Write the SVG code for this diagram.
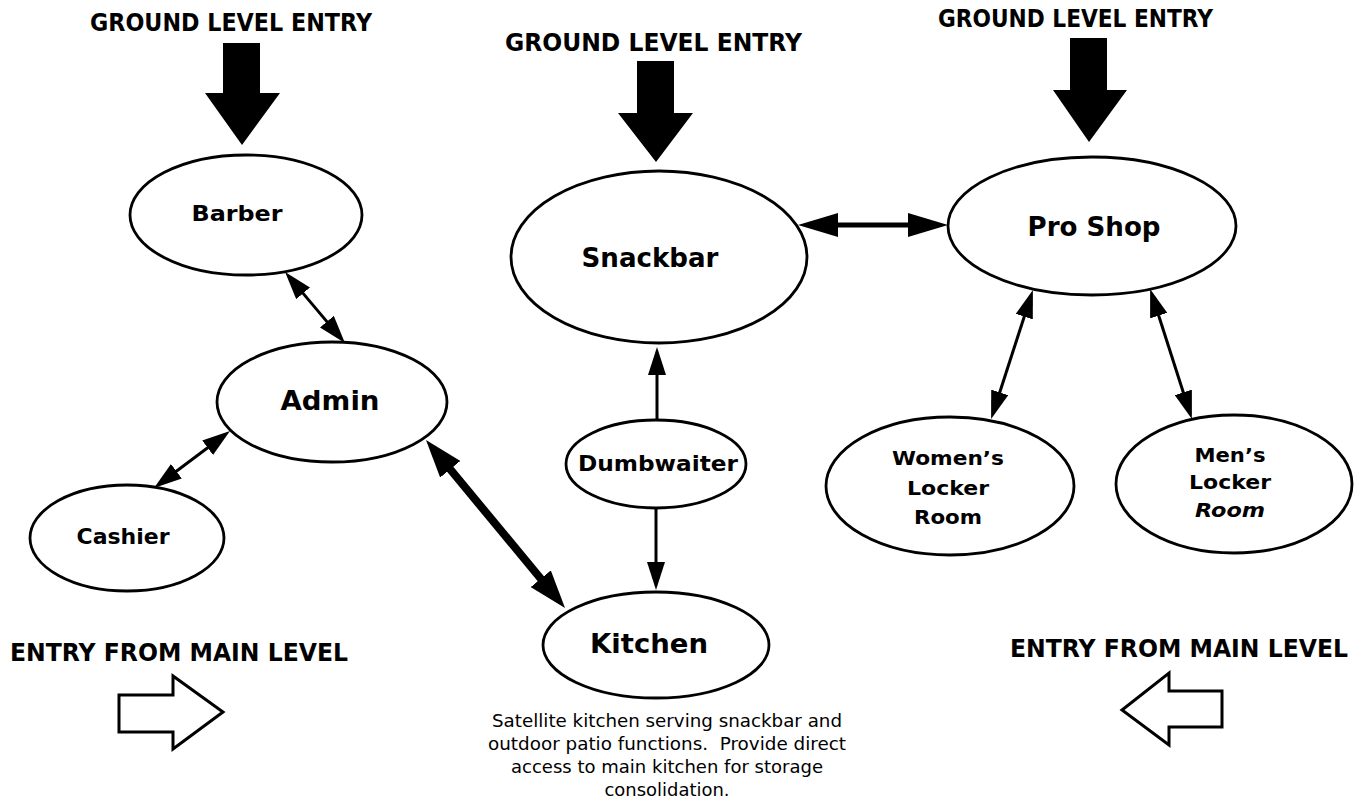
<svg xmlns="http://www.w3.org/2000/svg" width="1361" height="803" viewBox="0 0 1361 803">
<style>
.node ellipse{fill:#fff;stroke:#000;stroke-width:2.8}
.lbl{font-family:"DejaVu Sans","Liberation Sans",sans-serif;font-weight:bold;fill:#000;text-anchor:middle}
.title{font-family:"DejaVu Sans","Liberation Sans",sans-serif;font-weight:bold;font-size:24px;fill:#000}
.desc{font-family:"DejaVu Sans","Liberation Sans",sans-serif;font-size:17px;fill:#000;text-anchor:middle}
.thin{fill:none;stroke:#000;stroke-width:3}
.med{fill:none;stroke:#000;stroke-width:5}
.thick{fill:none;stroke:#000;stroke-width:8}
.big{fill:#000;stroke:none}
.hollow{fill:#fff;stroke:#000;stroke-width:3;stroke-linejoin:miter}
</style>
<defs>
<marker id="ah-s" markerUnits="userSpaceOnUse" markerWidth="28" markerHeight="18" viewBox="0 0 28 18" refX="18" refY="9" orient="auto-start-reverse"><path d="M0,0 L28,9 L0,18 z" fill="#000"/></marker>
<marker id="ah-m" markerUnits="userSpaceOnUse" markerWidth="40" markerHeight="24" viewBox="0 0 40 24" refX="28" refY="12" orient="auto-start-reverse"><path d="M0,0 L40,12 L0,24 z" fill="#000"/></marker>
<marker id="ah-l" markerUnits="userSpaceOnUse" markerWidth="38" markerHeight="26" viewBox="0 0 38 26" refX="24" refY="13" orient="auto-start-reverse"><path d="M0,0 L38,13 L0,26 z" fill="#000"/></marker>
</defs>
<rect width="1361" height="803" fill="#fff"/>

<g id="entries">
<text class="title" x="90" y="31" textLength="282" lengthAdjust="spacingAndGlyphs">GROUND LEVEL ENTRY</text>
<text class="title" x="505" y="51" textLength="297" lengthAdjust="spacingAndGlyphs">GROUND LEVEL ENTRY</text>
<text class="title" x="938" y="27" textLength="275" lengthAdjust="spacingAndGlyphs">GROUND LEVEL ENTRY</text>
<polygon class="big" points="223,43 260,43 260,93 280,93 242,145 205,93 223,93"/>
<polygon class="big" points="637,61 674,61 674,113 693,113 656,162 618,113 637,113"/>
<polygon class="big" points="1070,38 1107,38 1107,90 1127,90 1089,142 1053,90 1070,90"/>
<text class="title" x="10" y="661" textLength="338" lengthAdjust="spacingAndGlyphs">ENTRY FROM MAIN LEVEL</text>
<text class="title" x="1010" y="657" textLength="338" lengthAdjust="spacingAndGlyphs">ENTRY FROM MAIN LEVEL</text>
<polygon class="hollow" points="119,695 173,695 173,676 223,712 173,749 173,732 119,732"/>
<polygon class="hollow" points="1222,691 1169,691 1169,673 1122,710 1169,745 1169,727 1222,727"/>
</g>

<g id="connectors">
<path class="thin" d="M291.5,279.6 L338.5,335.4" marker-start="url(#ah-s)" marker-end="url(#ah-s)"/>
<path class="thin" d="M222,437 L162,482" marker-start="url(#ah-s)" marker-end="url(#ah-s)"/>
<path class="thick" d="M434.9,450.8 L556.1,597.2" marker-start="url(#ah-l)" marker-end="url(#ah-l)"/>
<path class="thin" d="M657,421 L657,357" marker-end="url(#ah-s)"/>
<path class="thin" d="M656,508 L656,580" marker-end="url(#ah-s)"/>
<path class="med" d="M810,225 L936,225" marker-start="url(#ah-m)" marker-end="url(#ah-m)"/>
<path class="thin" d="M1029.8,299.5 L994.2,409.5" marker-start="url(#ah-s)" marker-end="url(#ah-s)"/>
<path class="thin" d="M1153.2,298.5 L1188.8,409.5" marker-start="url(#ah-s)" marker-end="url(#ah-s)"/>
</g>

<g id="barber" class="node"><ellipse cx="246" cy="215" rx="116" ry="60"/><text class="lbl" x="237" y="221" font-size="22" textLength="91" lengthAdjust="spacingAndGlyphs">Barber</text></g>
<g id="admin" class="node"><ellipse cx="332" cy="402" rx="115" ry="60"/><text class="lbl" x="330" y="410" font-size="26" textLength="99" lengthAdjust="spacingAndGlyphs">Admin</text></g>
<g id="cashier" class="node"><ellipse cx="127" cy="538" rx="97" ry="53"/><text class="lbl" x="123" y="544" font-size="21" textLength="93" lengthAdjust="spacingAndGlyphs">Cashier</text></g>
<g id="snackbar" class="node"><ellipse cx="659" cy="257" rx="148" ry="86"/><text class="lbl" x="650" y="267" font-size="26" textLength="137" lengthAdjust="spacingAndGlyphs">Snackbar</text></g>
<g id="dumbwaiter" class="node"><ellipse cx="656" cy="464" rx="90" ry="44"/><text class="lbl" x="658" y="471" font-size="21" textLength="160" lengthAdjust="spacingAndGlyphs">Dumbwaiter</text></g>
<g id="kitchen" class="node"><ellipse cx="656" cy="645" rx="113" ry="53"/><text class="lbl" x="649" y="653" font-size="27" textLength="118" lengthAdjust="spacingAndGlyphs">Kitchen</text></g>
<g id="proshop" class="node"><ellipse cx="1092" cy="226" rx="144" ry="69"/><text class="lbl" x="1094" y="236" font-size="26" textLength="133" lengthAdjust="spacingAndGlyphs">Pro Shop</text></g>
<g id="womens" class="node"><ellipse cx="950" cy="486" rx="124" ry="69"/>
<text class="lbl" x="948" y="465" font-size="20" textLength="112" lengthAdjust="spacingAndGlyphs">Women’s</text>
<text class="lbl" x="948" y="495" font-size="20" textLength="82" lengthAdjust="spacingAndGlyphs">Locker</text>
<text class="lbl" x="948" y="524" font-size="20" textLength="68" lengthAdjust="spacingAndGlyphs">Room</text></g>
<g id="mens" class="node"><ellipse cx="1234" cy="484" rx="118" ry="69"/>
<text class="lbl" x="1230" y="462" font-size="20" textLength="71" lengthAdjust="spacingAndGlyphs">Men’s</text>
<text class="lbl" x="1230" y="489" font-size="20" textLength="82" lengthAdjust="spacingAndGlyphs">Locker</text>
<text class="lbl" x="1230" y="517" font-size="20" font-style="italic" textLength="70" lengthAdjust="spacingAndGlyphs">Room</text></g>

<g id="note">
<text class="desc" x="667" y="727" textLength="350" lengthAdjust="spacingAndGlyphs">Satellite kitchen serving snackbar and</text>
<text class="desc" x="667" y="750" textLength="358" lengthAdjust="spacingAndGlyphs" style="white-space:pre">outdoor patio functions.  Provide direct</text>
<text class="desc" x="667" y="773" textLength="312" lengthAdjust="spacingAndGlyphs">access to main kitchen for storage</text>
<text class="desc" x="667" y="796" textLength="125" lengthAdjust="spacingAndGlyphs">consolidation.</text>
</g>
</svg>
